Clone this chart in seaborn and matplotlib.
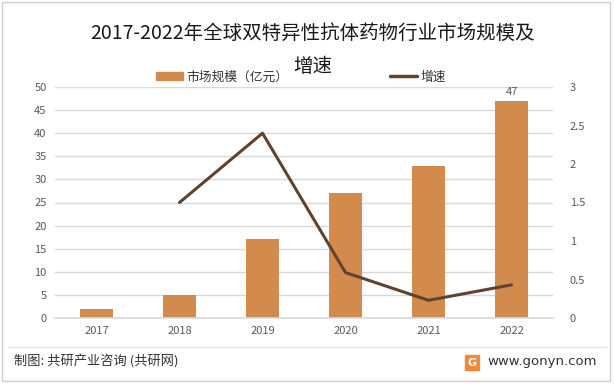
import matplotlib
matplotlib.use("Agg")
import matplotlib.pyplot as plt
import seaborn as sns
import numpy as np
import pandas as pd
from matplotlib.patches import Rectangle
from matplotlib.lines import Line2D

years = ["2017", "2018", "2019", "2020", "2021", "2022"]
market_size = [2, 5, 17, 27, 33, 47]
growth_years = ["2018", "2019", "2020", "2021", "2022"]
growth = [1.50, 2.40, 0.59, 0.23, 0.43]
left_ticks = [0, 5, 10, 15, 20, 25, 30, 35, 40, 45, 50]
right_ticks = [0, 0.5, 1, 1.5, 2, 2.5, 3]
right_labels = ["0", "0.5", "1", "1.5", "2", "2.5", "3"]

sns.set_theme(style="white")
plt.rcParams["font.family"] = ["Noto Sans CJK SC", "DejaVu Sans"]

BAR = "#D38B4D"
LINE = "#5E4430"
TICK = "#595959"
GRID = "#D9D9D9"

W, H = 614, 384
fig = plt.figure(figsize=(6.14, 3.84), dpi=100)
ax = fig.add_axes([55 / W, 1 - 318 / H, (553 - 55) / W, (318 - 87) / H])

df = pd.DataFrame({"year": years, "size": market_size})
sns.barplot(data=df, x="year", y="size", color=BAR, width=0.4, ax=ax,
            saturation=1, edgecolor="none")
ax.set_ylim(0, 50)
ax.set_yticks(left_ticks)
ax.set_xlim(-0.5, len(years) - 0.5)
ax.yaxis.grid(True, color=GRID, linewidth=1)
ax.set_axisbelow(True)
for s in ["top", "right", "left"]:
    ax.spines[s].set_visible(False)
ax.spines["bottom"].set_color(GRID)
ax.tick_params(axis="both", colors=TICK, labelsize=8, length=0, pad=6)
ax.set_xlabel("")
ax.set_ylabel("")

ax.text(len(years) - 1, market_size[-1] + 0.8, str(market_size[-1]),
        ha="center", va="bottom", fontsize=8, color=TICK)

ax2 = ax.twinx()
gx = [years.index(y) for y in growth_years]
sns.lineplot(x=gx, y=growth, ax=ax2, color=LINE, linewidth=2.2)
ax2.set_ylim(0, 3)
ax2.set_yticks(right_ticks)
ax2.set_yticklabels(right_labels)
ax2.set_xlim(-0.5, len(years) - 0.5)
for s in ["top", "right", "left", "bottom"]:
    ax2.spines[s].set_visible(False)
ax2.tick_params(axis="y", colors=TICK, labelsize=8, length=0, pad=12)
ax2.set_ylabel("")

# title
fig.text(313 / W, 1 - 33 / H, "2017-2022年全球双特异性抗体药物行业市场规模及",
         ha="center", va="center", fontsize=14, color="#1a1a1a")
fig.text(313 / W, 1 - 66 / H, "增速", ha="center", va="center",
         fontsize=14, color="#1a1a1a")

# legend
handles = [Rectangle((0, 0), 1, 1, color=BAR), Line2D([0], [0], color=LINE, linewidth=2.5)]
fig.legend(handles, ["市场规模（亿元）", "增速"], loc="center left",
           bbox_to_anchor=(156 / W, 1 - 77 / H), ncol=2, frameon=False,
           fontsize=9.2, columnspacing=8.0, handlelength=2.1, handleheight=0.6,
           handletextpad=0.25, borderpad=0, borderaxespad=0,
           labelcolor="#333333")

# footer
fig.add_artist(Line2D([8 / W, 606 / W], [1 - 347 / H, 1 - 347 / H],
                      color="#E0E0E0", linewidth=0.8))
fig.text(14 / W, 1 - 362 / H, "制图: 共研产业咨询 (共研网)", ha="left", va="center",
         fontsize=9.5, color="#333333")
fig.text(597 / W, 1 - 362 / H, "www.gonyn.com", ha="right", va="center",
         fontsize=9.5, color="#333333", family=["DejaVu Sans"])
fig.add_artist(Rectangle((465 / W, 1 - 370 / H), 14 / W, 15 / H,
                         color="#F2883A", transform=fig.transFigure))
fig.text(472 / W, 1 - 362.5 / H, "G", ha="center", va="center", fontsize=8,
         color="white", fontweight="bold", family=["DejaVu Sans"])

# border
fig.add_artist(Rectangle((2 / W, 3 / H), 608 / W, 379 / H, fill=False,
                         edgecolor="#D0D0D0", linewidth=1, transform=fig.transFigure))

fig.savefig("out.png", dpi=100)
